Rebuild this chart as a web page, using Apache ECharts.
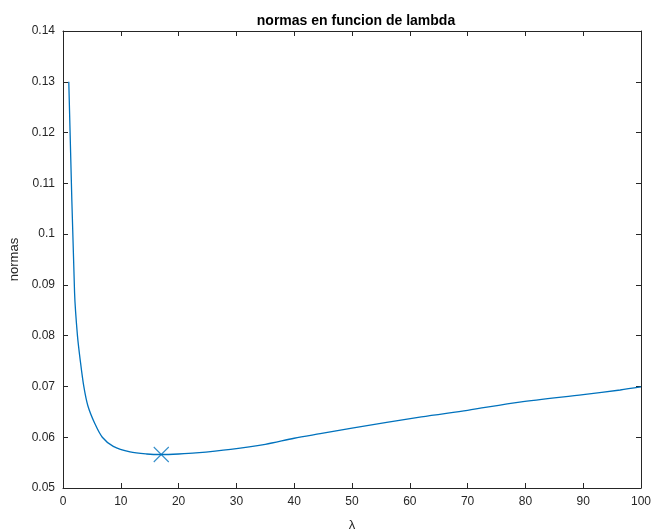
<!DOCTYPE html>
<html>
<head>
<meta charset="utf-8">
<script src="https://cdn.jsdelivr.net/npm/echarts@6/dist/echarts.min.js"></script>
<style>
html,body{margin:0;padding:0;background:#fff;}
#chart{width:652px;height:530px;}
</style>
</head>
<body>
<div id="chart"></div>
<script>
// data
const lambdas = [1, 2, 2.5, 3, 3.6, 4.3, 5.5, 6.8, 8.7, 11.6, 14.5, 17, 20, 23, 29, 35, 40, 44.5, 50, 62, 70, 79, 90, 96.4, 100];
const normas  = [0.130, 0.0885, 0.0800, 0.0750, 0.0700, 0.0662, 0.0627, 0.0600, 0.0582, 0.0571, 0.0567, 0.0566, 0.0567, 0.0569, 0.0576, 0.0586, 0.0598, 0.0607, 0.0618, 0.0640, 0.0653, 0.0669, 0.0684, 0.0693, 0.0699];
const minLambda = [17];
const minNorma = [0.0566];
const xTicks = [0, 10, 20, 30, 40, 50, 60, 70, 80, 90, 100];
const yTicks = [0.05, 0.06, 0.07, 0.08, 0.09, 0.1, 0.11, 0.12, 0.13, 0.14];

const FONT = 'Liberation Sans, Arial, Helvetica, sans-serif';
const AX = '#262626';
const BLUE = '#0072BD';

const chart = echarts.init(document.getElementById('chart'), null, {renderer: 'canvas'});

const axisCommon = {
  axisLine: {show: true, onZero: false, lineStyle: {color: AX, width: 1}},
  axisTick: {show: true, inside: true, length: 5, lineStyle: {color: AX, width: 1}},
  splitLine: {show: false}
};

chart.setOption({
  animation: false,
  backgroundColor: '#fff',
  title: {
    text: 'normas en funcion de lambda',
    left: 351, top: 9, textAlign: 'center',
    textStyle: {fontFamily: FONT, fontSize: 14, fontWeight: 'bold', color: '#000'}
  },
  grid: {left: 63, right: 11, top: 31, bottom: 42, containLabel: false, outerBoundsMode: 'none'},
  xAxis: [
    Object.assign({}, axisCommon, {
      type: 'value', position: 'bottom',
      min: xTicks[0], max: xTicks[xTicks.length - 1], interval: 10,
      name: 'λ', nameLocation: 'middle', nameGap: 31,
      nameTextStyle: {fontFamily: FONT, fontSize: 13, color: AX},
      axisLabel: {fontFamily: FONT, fontSize: 12, color: AX, margin: 8}
    }),
    Object.assign({}, axisCommon, {
      type: 'value', position: 'top',
      min: xTicks[0], max: xTicks[xTicks.length - 1], interval: 10,
      axisLabel: {show: false}
    })
  ],
  yAxis: [
    Object.assign({}, axisCommon, {
      type: 'value', position: 'left',
      min: yTicks[0], max: yTicks[yTicks.length - 1], interval: 0.01,
      name: 'normas', nameLocation: 'middle', nameGap: 35,
      nameTextStyle: {fontFamily: FONT, fontSize: 13, color: AX},
      axisLabel: {fontFamily: FONT, fontSize: 12, color: AX, margin: 8,
        formatter: v => String(+v.toFixed(2))}
    }),
    Object.assign({}, axisCommon, {
      type: 'value', position: 'right',
      min: yTicks[0], max: yTicks[yTicks.length - 1], interval: 0.01,
      axisLabel: {show: false}
    })
  ],
  series: [
    {
      type: 'line',
      xAxisIndex: 0, yAxisIndex: 0,
      data: lambdas.map((l, i) => [l, normas[i]]),
      smooth: 0.3,
      showSymbol: false,
      lineStyle: {color: BLUE, width: 1.3},
      clip: true
    },
    {
      type: 'scatter',
      xAxisIndex: 0, yAxisIndex: 0,
      data: minLambda.map((l, i) => [l, minNorma[i]]),
      symbol: 'path://M0,0L10,10M10,0L0,10',
      symbolSize: 15,
      itemStyle: {color: 'none', borderColor: BLUE, borderWidth: 1.1},
      emphasis: {disabled: true}
    }
  ]
});
</script>
</body>
</html>
